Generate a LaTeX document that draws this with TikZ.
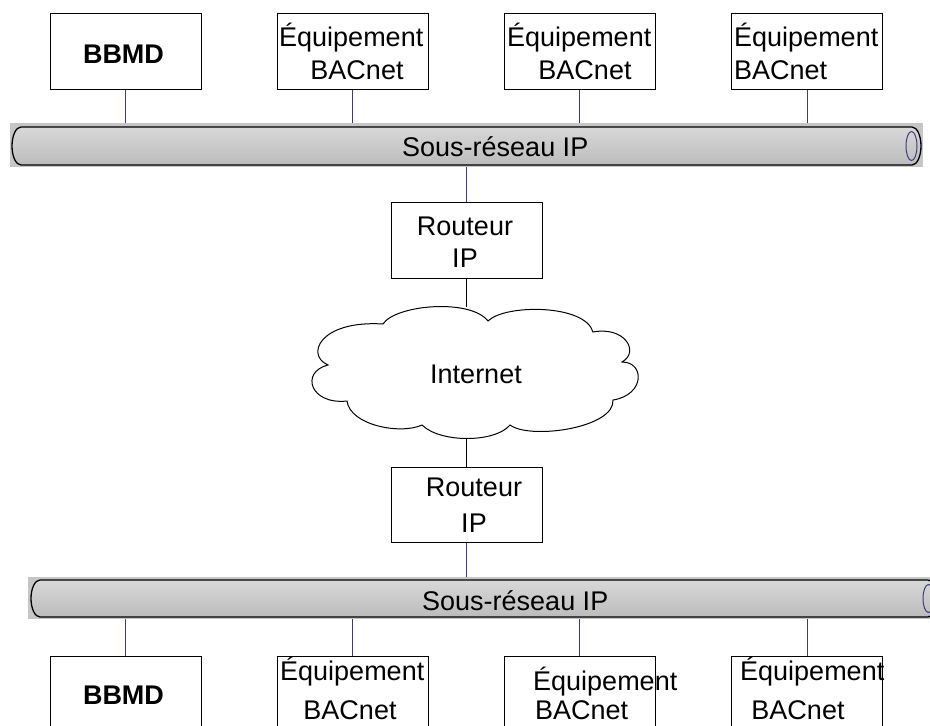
\documentclass[tikz,border=0pt]{standalone}
\usepackage{fontspec}
\setmainfont{Liberation Sans}

\definecolor{wirecol}{RGB}{60,60,130}
\definecolor{bandgray}{RGB}{198,198,198}
\definecolor{tubetop}{RGB}{216,216,216}
\definecolor{tubebot}{RGB}{188,188,188}

\tikzset{
  device/.style={draw=black, line width=1pt, fill=white, minimum width=151pt, minimum height=76pt, inner sep=0pt},
  router/.style={device, minimum height=76pt},
  band/.style={fill=bandgray, inner sep=0pt},
  tube/.style={draw=black, line width=1.3pt, top color=tubetop, bottom color=tubebot},
  endring/.style={draw=wirecol, line width=1pt},
  wire/.style={draw=wirecol, line width=0.9pt},
  link/.style={draw=black, line width=0.9pt},
  txt/.style={inner sep=0pt, font=\fontsize{27}{30}\selectfont},
  btxt/.style={txt, font=\fontsize{27}{30}\selectfont\bfseries},
  cloudline/.style={draw=black, line width=1pt, fill=white},
  area/.style={inner sep=0pt}
}

\begin{document}
\begin{tikzpicture}[x=1pt, y=-1pt]
  \useasboundingbox (0,0) rectangle (930,726);
  \clip (0,0) rectangle (930,726);
  \fill[white] (0,0) rectangle (930,726);

  % upper IP subnet
  \node[band, minimum width=913pt, minimum height=44pt] (netA) at (466.5,145) {};
  \draw[tube] (21,127) -- (912,127) arc[start angle=-90, end angle=90, x radius=9, y radius=19]
              -- (21,165) arc[start angle=90, end angle=270, x radius=9, y radius=19] -- cycle;
  \draw[endring] (911.5,146) ellipse[x radius=5.5, y radius=14.5];
  \node[txt, anchor=base west] (netAlbl) at (402,156) {Sous-réseau IP};

  % lower IP subnet
  \node[band, minimum width=907pt, minimum height=42pt] (netB) at (481.5,598) {};
  \draw[tube] (40,580) -- (928,580) arc[start angle=-90, end angle=90, x radius=9, y radius=18.5]
              -- (40,617) arc[start angle=90, end angle=270, x radius=9, y radius=18.5] -- cycle;
  \draw[endring] (928.5,598.5) ellipse[x radius=5.5, y radius=14];
  \node[txt, anchor=base west] (netBlbl) at (422,610) {Sous-réseau IP};

  % devices on the upper subnet
  \node[device] (ta) at (125.5,51) {};
  \node[device] (tb) at (352.5,51) {};
  \node[device] (tc) at (579.5,51) {};
  \node[device] (td) at (807,51) {};
  \node[btxt, anchor=base] (talbl) at (123.5,63) {BBMD};
  \node[txt, anchor=base west] (tblbl1) at (279,46) {Équipement};
  \node[txt, anchor=base] (tblbl2) at (357,79) {BACnet};
  \node[txt, anchor=base west] (tclbl1) at (507,46) {Équipement};
  \node[txt, anchor=base] (tclbl2) at (585,79) {BACnet};
  \node[txt, anchor=base west] (tdlbl1) at (734,46) {Équipement};
  \node[txt, anchor=base west] (tdlbl2) at (734,79) {BACnet};

  % devices on the lower subnet
  \node[device] (ba) at (125.5,694) {};
  \node[device] (bb) at (352.5,694) {};
  \node[device] (bc) at (579.5,694) {};
  \node[device] (bd) at (807,694) {};
  \node[btxt, anchor=base] (balbl) at (123.5,704) {BBMD};
  \node[txt, anchor=base west] (bblbl1) at (280,680) {Équipement};
  \node[txt, anchor=base] (bblbl2) at (350,719) {BACnet};
  \node[txt, anchor=base west] (bclbl1) at (533,690) {Équipement};
  \node[txt, anchor=base west] (bclbl2) at (535,719) {BACnet};
  \node[txt, anchor=base west] (bdlbl1) at (740,680) {Équipement};
  \node[txt, anchor=base] (bdlbl2) at (798,719) {BACnet};

  % the Internet cloud
  \draw[cloudline] (383,324)
    .. controls (395,305) and (470,298) .. (488,321)
    .. controls (505,304) and (585,304) .. (593,332)
    .. controls (625,326) and (640,352) .. (622,362)
    .. controls (645,362) and (645,395) .. (613,400)
    .. controls (615,428) and (530,440) .. (510,425)
    .. controls (495,443) and (440,443) .. (422,425)
    .. controls (400,435) and (350,425) .. (347,401)
    .. controls (310,405) and (300,372) .. (328,365)
    .. controls (305,355) and (320,320) .. (383,324) -- cycle;
  \node[area, minimum width=325pt, minimum height=131pt] (inet) at (475.5,372.5) {};
  \node[txt, anchor=base] (inetlbl) at (476,383) {Internet};

  % routers
  \node[router] (ra) at (466.5,240) {};
  \node[txt, anchor=base] (ralbl1) at (465,235) {Routeur};
  \node[txt, anchor=base] (ralbl2) at (465,267) {IP};
  \node[router, minimum height=75pt] (rb) at (466.5,504.5) {};
  \node[txt, anchor=base] (rblbl1) at (474,496) {Routeur};
  \node[txt, anchor=base] (rblbl2) at (474,532) {IP};

  % drops to the subnets
  \foreach \d in {ta,tb,tc,td} \draw[wire] (\d.south) -- (\d.south |- netA.north);
  \foreach \d in {ba,bb,bc,bd} \draw[wire] (\d.north) -- (\d.north |- netB.south);
  \draw[wire] (ra.north) -- (ra.north |- netA.south);
  \draw[wire] (rb.south) -- (rb.south |- netB.north);

  % routers to the Internet
  \draw[link] (ra.south) -- (ra.south |- inet.north);
  \draw[link] (rb.north) -- (rb.north |- inet.south);
\end{tikzpicture}
\end{document}
